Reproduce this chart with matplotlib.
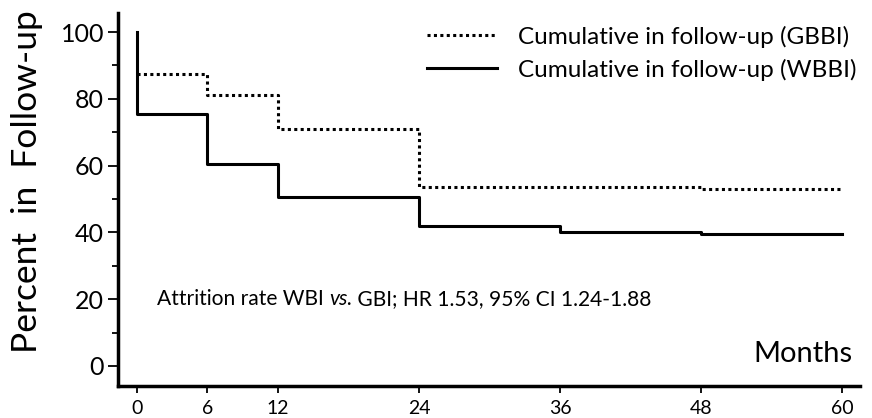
import matplotlib
matplotlib.use('Agg')
import matplotlib.pyplot as plt

# follow-up retention (percent) at each month mark
months_gbbi = [0, 6, 12, 24, 48, 60]
pct_gbbi    = [87.5, 81.2, 70.9, 53.5, 52.9, 52.9]

months_wbbi = [0, 0, 6, 12, 24, 36, 48, 60]
pct_wbbi    = [100, 75.5, 60.4, 50.5, 42.0, 40.2, 39.5, 39.5]

xticks = [0, 6, 12, 24, 36, 48, 60]
yticks = [0, 20, 40, 60, 80, 100]

plt.rcParams['font.family'] = ['Lato', 'DejaVu Sans']

fig = plt.figure(figsize=(8.72, 4.18), dpi=100)
ax = fig.add_axes([118/872, 1-386/418, (860-118)/872, (386-13)/418])

ax.plot(months_gbbi, pct_gbbi, drawstyle='steps-post', color='black',
        lw=2.2, linestyle=(0, (1, 1.1)), label='Cumulative in follow-up (GBBI)')
ax.plot(months_wbbi, pct_wbbi, drawstyle='steps-post', color='black',
        lw=2.2, label='Cumulative in follow-up (WBBI)')

ax.set_xlim(-1.6, 61.5)
ax.set_ylim(-6, 105.7)
ax.set_xticks(xticks)
ax.set_xticklabels([str(t) for t in xticks], fontsize=14)
ax.set_yticks(yticks)
ax.set_yticklabels([str(t) for t in yticks], fontsize=18)
ax.set_yticks(range(10, 100, 20), minor=True)
ax.tick_params(axis='y', which='major', direction='out', length=7, width=1.3, pad=3)
ax.tick_params(axis='y', which='minor', direction='out', length=4, width=1.3)
ax.tick_params(axis='x', which='major', direction='out', length=5, width=1.3, pad=5)

for side in ['top', 'right']:
    ax.spines[side].set_visible(False)
for side in ['left', 'bottom']:
    ax.spines[side].set_linewidth(2.5)

ax.set_ylabel('Percent  in  Follow-up', fontsize=25.5)
ax.yaxis.set_label_coords(-0.101, 0.547)

# annotation built in pieces so only "vs." is italic
t1 = ax.text(1.7, 20, 'Attrition rate WBI ', fontsize=15.1, va='center', ha='left')
t2 = ax.annotate('vs.', xy=(1, 0), xycoords=t1, fontsize=15.1, style='italic',
                 va='bottom', ha='left')
ax.annotate(' GBI; HR 1.53, 95% CI 1.24-1.88', xy=(1, 0), xycoords=t2,
            fontsize=15.1, va='bottom', ha='left')

ax.text(60.9, 3.5, 'Months', fontsize=21, ha='right', va='center')

leg = ax.legend(loc='upper right', bbox_to_anchor=(1.015, 1.005), frameon=False,
                fontsize=17.5, handlelength=2.9, handletextpad=0.85,
                labelspacing=0.45, borderaxespad=0.2)

fig.savefig('out.png', dpi=100)
